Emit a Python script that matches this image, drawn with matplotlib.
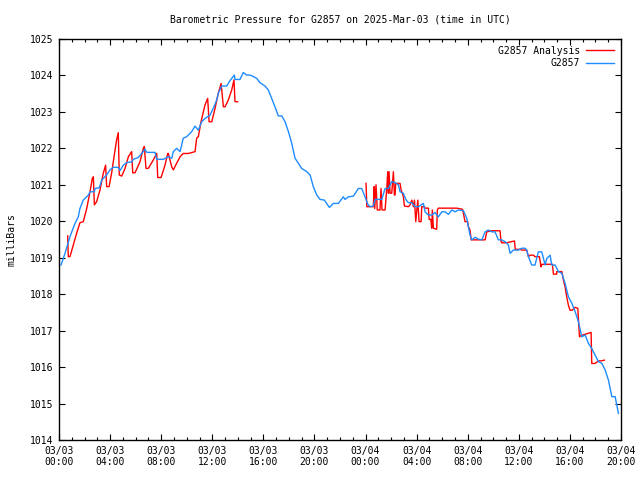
import matplotlib
matplotlib.use("Agg")
import matplotlib.pyplot as plt
from matplotlib.ticker import MultipleLocator

# hours since 2025-03-03 00:00 UTC
obs_h = [0.16, 0.47, 0.86, 1.25, 1.51, 1.64, 1.90, 2.30, 2.43, 2.77, 2.82, 3.16, 3.34, 3.73, 3.99,
         4.25, 4.64, 4.78, 5.04, 5.30, 5.69, 5.82, 6.21, 6.48, 6.73, 6.87, 7.52, 7.65, 8.17, 8.56,
         8.83, 8.95, 9.21, 9.48, 9.73, 10.0, 10.39, 10.65, 10.91, 11.17, 11.43, 11.82, 12.08, 12.35,
         12.47, 12.74, 13.13, 13.39, 13.73, 13.78, 14.17, 14.43, 14.70, 14.96, 15.22, 15.48, 15.74,
         16.13, 16.39, 16.65, 16.91, 17.17, 17.44, 17.70, 17.96, 18.22, 18.48, 18.74, 19.00, 19.40,
         19.66, 19.91, 20.18, 20.44, 20.78, 21.17, 21.48, 21.87, 22.26, 22.40, 22.66, 23.05, 23.44,
         23.70, 23.96, 24.17, 24.35, 24.61, 24.75, 25.27, 25.53, 25.79, 26.05, 26.31, 26.57, 26.70,
         26.96, 27.15, 27.35, 27.62, 27.88, 28.14, 28.53, 28.66, 28.92, 29.18, 29.44, 29.70, 29.97,
         30.23, 30.49, 30.75, 31.01, 31.27, 31.66, 31.93, 32.05, 32.18, 32.32, 32.58, 32.84, 33.10,
         33.36, 33.62, 33.88, 34.14, 34.40, 34.66, 34.93, 35.18, 35.32, 35.57, 35.96, 36.23, 36.49,
         36.62, 36.75, 37.01, 37.27, 37.53, 37.80, 38.06, 38.19, 38.45, 38.58, 38.84, 39.10, 39.37,
         39.62, 39.88, 40.15, 40.41, 40.67, 40.93, 41.19, 41.45, 41.71, 41.97, 42.24, 42.50, 42.76,
         43.02, 43.28, 43.54, 43.75, 43.80]
obs_p = [1018.80, 1019.12, 1019.58, 1019.94, 1020.12, 1020.35, 1020.58, 1020.72, 1020.81, 1020.81,
         1020.90, 1020.92, 1021.13, 1021.27, 1021.41, 1021.48, 1021.48, 1021.39, 1021.54, 1021.61,
         1021.63, 1021.70, 1021.75, 1021.86, 1021.98, 1021.89, 1021.89, 1021.70, 1021.70, 1021.77,
         1021.73, 1021.91, 1022.00, 1021.91, 1022.28, 1022.32, 1022.46, 1022.61, 1022.50, 1022.73,
         1022.82, 1022.91, 1023.10, 1023.33, 1023.51, 1023.71, 1023.71, 1023.86, 1024.01, 1023.89,
         1023.89, 1024.08, 1024.01, 1024.01, 1023.97, 1023.92, 1023.80, 1023.71, 1023.60, 1023.37,
         1023.14, 1022.89, 1022.89, 1022.73, 1022.46, 1022.14, 1021.73, 1021.59, 1021.45, 1021.36,
         1021.27, 1020.95, 1020.72, 1020.60, 1020.58, 1020.38, 1020.49, 1020.49, 1020.67, 1020.60,
         1020.67, 1020.69, 1020.90, 1020.90, 1020.67, 1020.47, 1020.40, 1020.42, 1020.60, 1020.60,
         1020.90, 1020.90, 1021.09, 1021.06, 1021.00, 1020.81, 1020.77, 1020.60, 1020.51, 1020.51,
         1020.40, 1020.40, 1020.49, 1020.26, 1020.17, 1020.17, 1020.24, 1020.12, 1020.26, 1020.26,
         1020.19, 1020.31, 1020.26, 1020.31, 1020.29, 1020.08, 1019.85, 1019.62, 1019.49, 1019.56,
         1019.51, 1019.49, 1019.71, 1019.76, 1019.71, 1019.71, 1019.49, 1019.49, 1019.44, 1019.35,
         1019.12, 1019.21, 1019.21, 1019.26, 1019.26, 1019.21, 1019.03, 1018.80, 1018.80, 1019.16,
         1019.16, 1018.80, 1018.98, 1019.07, 1018.80, 1018.80, 1018.62, 1018.57, 1018.30, 1017.93,
         1017.75, 1017.52, 1017.24, 1016.83, 1016.88, 1016.65, 1016.51, 1016.33, 1016.15, 1016.10,
         1015.92, 1015.64, 1015.19, 1015.19, 1014.82, 1014.73]

ana1_h = [0.68, 0.73, 0.86, 1.12, 1.38, 1.64, 1.90, 2.17, 2.43, 2.61, 2.69, 2.77, 2.95, 3.21, 3.47,
          3.65, 3.73, 3.92, 4.12, 4.33, 4.51, 4.64, 4.72, 4.91, 5.17, 5.43, 5.69, 5.77, 5.95, 6.34,
          6.60, 6.68, 6.81, 6.99, 7.38, 7.65, 7.73, 7.99, 8.30, 8.51, 8.56, 8.82, 8.95, 9.21, 9.48,
          9.73, 10.13, 10.65, 10.78, 10.91, 11.12, 11.30, 11.43, 11.64, 11.75, 11.96, 12.22, 12.47,
          12.69, 12.87, 13.00, 13.26, 13.52, 13.70, 13.78, 13.99]
ana1_p = [1019.60, 1019.03, 1019.03, 1019.35, 1019.67, 1019.96, 1019.99, 1020.35, 1020.81, 1021.18,
          1021.22, 1020.45, 1020.54, 1020.86, 1021.32, 1021.54, 1020.95, 1020.95, 1021.32, 1021.82,
          1022.23, 1022.43, 1021.27, 1021.24, 1021.45, 1021.77, 1021.91, 1021.33, 1021.33, 1021.63,
          1022.00, 1022.05, 1021.45, 1021.45, 1021.68, 1021.86, 1021.20, 1021.20, 1021.54, 1021.86,
          1021.86, 1021.50, 1021.41, 1021.59, 1021.77, 1021.86, 1021.86, 1021.91, 1022.28, 1022.32,
          1022.73, 1023.00, 1023.19, 1023.37, 1022.73, 1022.73, 1023.10, 1023.51, 1023.78, 1023.14,
          1023.14, 1023.33, 1023.60, 1023.88, 1023.28, 1023.28]

ana2_h = [24.04, 24.10, 24.61, 24.67, 24.72, 24.82, 24.92, 25.13, 25.21, 25.29, 25.53, 25.66,
          25.74, 25.79, 25.84, 25.92, 26.05, 26.18, 26.26, 26.31, 26.36, 26.70, 26.78, 26.96, 27.04,
          27.35, 27.49, 27.62, 27.75, 27.83, 27.93, 28.09, 28.19, 28.35, 28.40, 28.61, 28.66, 28.92,
          28.98, 29.11, 29.18, 29.23, 29.31, 29.57, 29.62, 29.70, 31.14, 31.59, 31.66, 31.79, 31.99,
          32.05, 32.18, 32.27, 33.36, 33.49, 33.88, 34.53, 34.61, 34.66, 34.66, 35.05, 35.66, 35.72,
          36.10, 36.23, 36.62, 36.75, 36.88, 37.14, 37.27, 37.61, 37.74, 37.80, 38.63, 38.71, 38.97,
          38.97, 39.37, 39.49, 39.62, 39.75, 39.88, 40.01, 40.19, 40.41, 40.62, 40.67, 40.75, 40.88,
          41.19, 41.66, 41.71, 41.97, 42.24, 42.45, 42.70]
ana2_p = [1021.04, 1020.40, 1020.40, 1020.95, 1020.35, 1021.00, 1020.31, 1020.31, 1020.90, 1020.31,
          1020.31, 1020.90, 1021.36, 1020.77, 1021.36, 1020.77, 1020.77, 1021.36, 1020.72, 1020.72,
          1021.04, 1021.04, 1020.87, 1020.68, 1020.42, 1020.40, 1020.45, 1020.58, 1020.40, 1020.58,
          1019.99, 1020.58, 1019.99, 1019.99, 1020.40, 1020.40, 1020.36, 1020.36, 1020.05, 1020.05,
          1019.81, 1020.31, 1019.81, 1019.78, 1020.31, 1020.36, 1020.36, 1020.33, 1020.22, 1019.99,
          1019.99, 1019.85, 1019.76, 1019.49, 1019.49, 1019.71, 1019.74, 1019.74, 1019.44, 1019.44,
          1019.41, 1019.41, 1019.46, 1019.23, 1019.23, 1019.21, 1019.21, 1019.03, 1019.07, 1019.07,
          1019.03, 1019.03, 1018.75, 1018.82, 1018.82, 1018.55, 1018.55, 1018.62, 1018.62, 1018.39,
          1018.20, 1017.93, 1017.70, 1017.56, 1017.56, 1017.64, 1017.61, 1017.29, 1016.83, 1016.87,
          1016.90, 1016.95, 1016.10, 1016.10, 1016.17, 1016.17, 1016.19]

xtick_hours = [0, 4, 8, 12, 16, 20, 24, 28, 32, 36, 40, 44]
xtick_labels = ["03/03\n00:00", "03/03\n04:00", "03/03\n08:00", "03/03\n12:00", "03/03\n16:00",
                "03/03\n20:00", "03/04\n00:00", "03/04\n04:00", "03/04\n08:00", "03/04\n12:00",
                "03/04\n16:00", "03/04\n20:00"]
yticks = list(range(1014, 1026))

plt.rcParams['font.family'] = ['DejaVu Sans Mono']
plt.rcParams['font.size'] = 7

fig = plt.figure(figsize=(6.4, 4.8), dpi=100)
ax = fig.add_axes([59/640, 40/480, 562/640, 401/480])

red = '#ff0000'
blue = '#1e8cff'
ax.plot(ana1_h, ana1_p, color=red, lw=1.0, label='G2857 Analysis')
ax.plot(ana2_h, ana2_p, color=red, lw=1.0)
ax.plot(obs_h, obs_p, color=blue, lw=1.0, label='G2857')

ax.set_xlim(0, 44)
ax.set_ylim(1014, 1025)
ax.set_xticks(xtick_hours)
ax.set_xticklabels(xtick_labels)
ax.xaxis.set_minor_locator(MultipleLocator(1))
ax.set_yticks(yticks)
ax.set_yticklabels([str(v) for v in yticks])
ax.tick_params(which='both', direction='in', top=True, right=True, colors='black', width=0.8)
ax.tick_params(which='major', length=4, pad=4)
ax.tick_params(which='minor', length=2)
for s in ax.spines.values():
    s.set_linewidth(1.0)

ax.set_title('Barometric Pressure for G2857 on 2025-Mar-03 (time in UTC)', fontsize=7, pad=12)
ax.set_ylabel('milliBars', labelpad=10)
ax.legend(loc='upper right', frameon=False, markerfirst=False, handlelength=2.9,
          handletextpad=0.6, labelspacing=0.25, borderaxespad=0.3, fontsize=7)

fig.savefig('out.png', dpi=100)
